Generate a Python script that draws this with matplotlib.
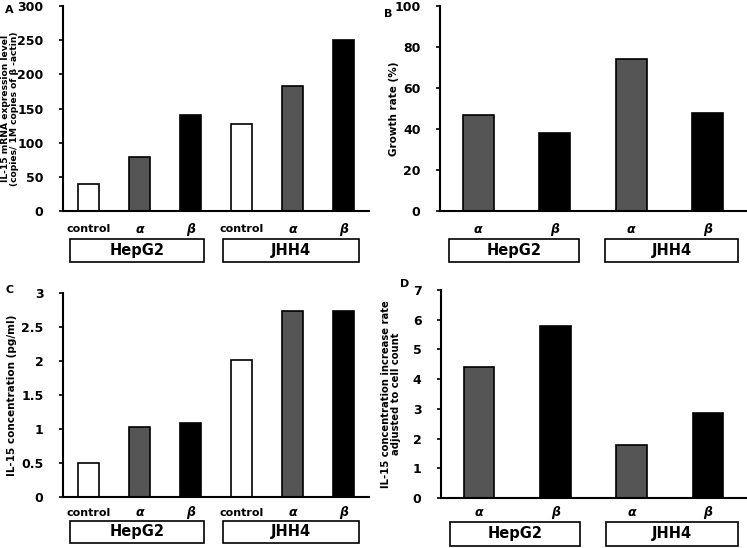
import matplotlib.pyplot as plt
from matplotlib.patches import Rectangle
from matplotlib.ticker import FuncFormatter

# data
labels6 = ["control", "α", "β", "control", "α", "β"]
labels4 = ["α", "β", "α", "β"]
groups = ["HepG2", "JHH4"]

mrna = [40, 79, 140, 127, 183, 250]
growth = [47, 38, 74, 48]
conc = [0.5, 1.03, 1.09, 2.02, 2.74, 2.74]
rate_adj = [4.4, 5.8, 1.8, 2.85]

colors6 = ["white", "#555555", "black", "white", "#555555", "black"]
colors4 = ["#555555", "black", "#555555", "black"]

plt.rcParams['font.family'] = ['Liberation Sans Narrow', 'DejaVu Sans']
plt.rcParams['font.weight'] = 'bold'

fig = plt.figure(figsize=(7.47, 5.48), dpi=100)
W, H = 747, 548


def add_ax(l, r, t, b):
    return fig.add_axes([l / W, 1 - b / H, (r - l) / W, (b - t) / H])


def style(ax, vals, cols, labels, ylim, step, lab_y, box_y0, box_y1, boxes, fmt=None):
    x = range(len(vals))
    ax.bar(x, vals, width=0.41 if len(vals) == 6 else 0.4, color=cols,
           edgecolor="black", linewidth=1.2)
    ax.set_xlim(-0.5, len(vals) - 0.5)
    ax.set_ylim(0, ylim)
    ticks = [i * step for i in range(int(round(ylim / step)) + 1)]
    ax.set_yticks(ticks)
    if fmt:
        ax.yaxis.set_major_formatter(FuncFormatter(fmt))
    ax.set_xticks([])
    for s in ["top", "right"]:
        ax.spines[s].set_visible(False)
    ax.spines["left"].set_linewidth(1.5)
    ax.spines["bottom"].set_linewidth(1.5)
    ax.tick_params(axis="y", length=3, width=1.2, labelsize=9, pad=11)
    for t in ax.get_yticklabels():
        t.set_fontweight("bold")
    tr = ax.get_xaxis_transform()
    for i, lab in enumerate(labels):
        ax.text(i, lab_y, lab, transform=tr, ha="center", va="center",
                fontsize=8 if lab == "control" else 9, fontweight="bold",
                fontstyle="normal" if lab == "control" else "italic")
    for (x0, x1), g in zip(boxes, groups):
        ax.add_patch(Rectangle((x0, box_y1), x1 - x0, box_y0 - box_y1, transform=tr,
                               facecolor="white", edgecolor="black", linewidth=1.2,
                               clip_on=False))
        ax.text((x0 + x1) / 2, (box_y0 + box_y1) / 2, g, transform=tr, ha="center",
                va="center", fontsize=10.5, fontweight="bold")


def cfmt(v, p):
    return "%g" % v


axA = add_ax(63, 369, 6, 211)
style(axA, mrna, colors6, labels6, 300, 50, -0.088, -0.137, -0.249,
      [(-0.37, 2.27), (2.63, 5.3)])
axA.set_ylabel("IL-15 mRNA expression level\n(copies/ 1M copies of β -actin)",
               fontsize=6.6, fontweight="bold", linespacing=1.0)
axA.yaxis.set_label_coords(-0.145, 0.5)

axB = add_ax(440, 746, 6, 211)
style(axB, growth, colors4, labels4, 100, 20, -0.088, -0.137, -0.249,
      [(-0.38, 1.32), (1.66, 3.39)])
axB.set_ylabel("Growth rate (%)", fontsize=7.5, fontweight="bold")
axB.yaxis.set_label_coords(-0.135, 0.5)

axC = add_ax(63, 369, 293, 497)
style(axC, conc, colors6, labels6, 3, 0.5, -0.078, -0.118, -0.225,
      [(-0.37, 2.27), (2.63, 5.3)], fmt=cfmt)
axC.set_ylabel("IL-15 concentration (pg/ml)", fontsize=7.5, fontweight="bold")
axC.yaxis.set_label_coords(-0.15, 0.5)

axD = add_ax(441, 746, 290, 498)
style(axD, rate_adj, colors4, labels4, 7, 1, -0.072, -0.115, -0.231,
      [(-0.38, 1.32), (1.66, 3.39)])
axD.set_ylabel("IL-15 concentration increase rate\nadjusted to cell count",
               fontsize=7.2, fontweight="bold", linespacing=1.0)
axD.yaxis.set_label_coords(-0.13, 0.5)

for letter, px, py in [("A", 5, 10), ("B", 384, 14), ("C", 5, 290), ("D", 400, 284)]:
    fig.text(px / W, 1 - py / H, letter, fontsize=8, fontweight="bold",
             ha="left", va="center")

fig.savefig("out.png", dpi=100)
